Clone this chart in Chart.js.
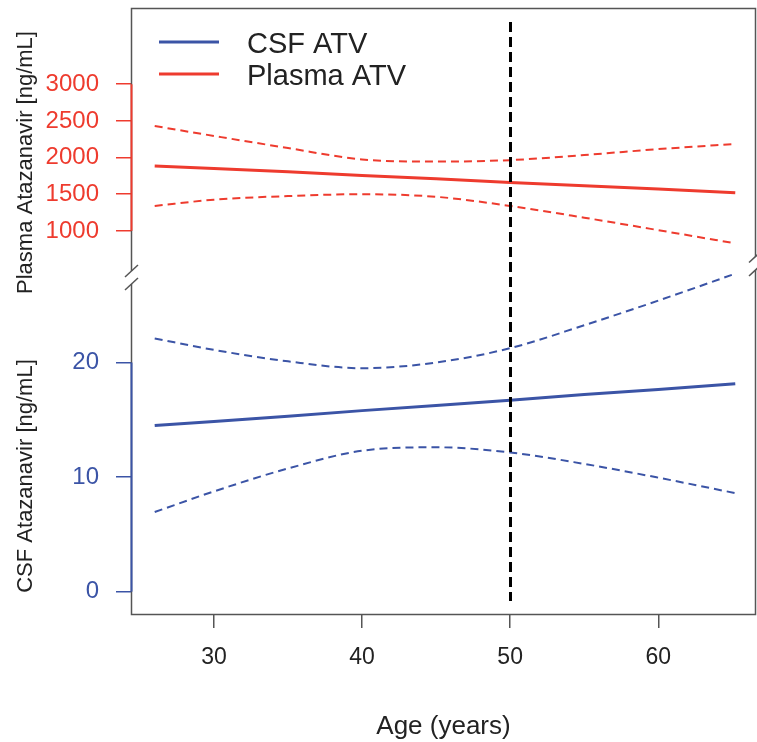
<!DOCTYPE html>
<html>
<head>
<meta charset="utf-8">
<script src="https://cdn.jsdelivr.net/npm/chart.js@4.4.1/dist/chart.umd.min.js"></script>
<style>
  html, body { margin: 0; padding: 0; background: #fff; }
  #wrap { width: 757px; height: 742px; }
</style>
</head>
<body>
<div id="wrap"><canvas id="atvChart" width="757" height="742"></canvas></div>
<script>
// model fit and 95% band, by age
const ages = [26, 30, 35, 40, 45, 50, 55, 60, 65.2];
const csfFit = [14.5, 14.85, 15.3, 15.8, 16.25, 16.7, 17.2, 17.65, 18.15];
const csfLower = [6.95, 8.75, 10.75, 12.3, 12.6, 12.15, 11.15, 9.95, 8.6];
const csfUpper = [22.1, 21.1, 20.1, 19.5, 20.0, 21.25, 23.25, 25.4, 27.75];
const plasmaFit = [1885, 1850, 1805, 1755, 1710, 1660, 1615, 1570, 1520];
const plasmaLower = [1340, 1425, 1475, 1500, 1465, 1340, 1180, 1010, 830];
const plasmaUpper = [2430, 2295, 2130, 1975, 1945, 1965, 2035, 2115, 2185];

const ageTicks = [30, 40, 50, 60];
const csfTicks = [0, 10, 20];
const plasmaTicks = [1000, 1500, 2000, 2500, 3000];
const cutoffAge = 50;

const ageTitle = "Age (years)";
const csfTitle = "CSF Atazanavir [ng/mL]";
const plasmaTitle = "Plasma Atazanavir [ng/mL]";

const BLUE = "#3B54A6";
const RED = "#EE3B2E";
const INK = "#222";
const FRAME = "#555";
const FONT = "'Liberation Sans', Arial, Helvetica, sans-serif";

function pts(values) {
  return ages.map((a, i) => ({ x: a, y: values[i] }));
}

function fitLine(label, values, color, axis) {
  return {
    label, data: pts(values), yAxisID: axis,
    borderColor: color, borderWidth: 3, pointRadius: 0,
    tension: 0, clip: false
  };
}

function bandLine(label, values, color, axis) {
  return {
    label, data: pts(values), yAxisID: axis,
    borderColor: color, borderWidth: 2, borderDash: [8, 5], pointRadius: 0,
    cubicInterpolationMode: "monotone", clip: false
  };
}

function fixedTicks(values) {
  return (scale) => { scale.ticks = values.map(v => ({ value: v })); };
}

// no extra room around the axes for overhanging labels
function fitLeft(s) {
  s.width = 131;
  s.paddingTop = 0;
  s.paddingBottom = 0;
}

function fitBottom(s) {
  s.height = 128;
  s.paddingLeft = 0;
  s.paddingRight = 0;
}

// box, cutoff line, coloured axis segments and the break marks
const framePlugin = {
  id: "frame",
  afterDatasetsDraw(chart) {
    const { ctx, chartArea: a, scales } = chart;
    ctx.save();

    const xc = Math.round(scales.x.getPixelForValue(cutoffAge)) + 0.5;
    ctx.strokeStyle = "#000";
    ctx.lineWidth = 3;
    ctx.setLineDash([10, 5]);
    ctx.beginPath();
    ctx.moveTo(xc, a.top + 14);
    ctx.lineTo(xc, a.bottom - 13);
    ctx.stroke();
    ctx.setLineDash([]);

    ctx.strokeStyle = FRAME;
    ctx.lineWidth = 1.5;
    ctx.strokeRect(a.left + 0.5, a.top + 0.5, a.width - 1, a.height);

    const yp = scales.yPlasma, yc = scales.yCsf;
    ctx.lineWidth = 2;
    ctx.strokeStyle = RED;
    ctx.beginPath();
    ctx.moveTo(a.left + 0.5, yp.getPixelForValue(plasmaTicks[plasmaTicks.length - 1]));
    ctx.lineTo(a.left + 0.5, yp.getPixelForValue(plasmaTicks[0]));
    ctx.stroke();
    ctx.strokeStyle = BLUE;
    ctx.beginPath();
    ctx.moveTo(a.left + 0.5, yc.getPixelForValue(csfTicks[csfTicks.length - 1]));
    ctx.lineTo(a.left + 0.5, yc.getPixelForValue(csfTicks[0]));
    ctx.stroke();

    // axis break: left side just above the split, right side a little higher
    const split = yc.top;
    const breakAt = (x, y1, y2) => {
      ctx.fillStyle = "#fff";
      ctx.fillRect(x - 3, y1, 6, y2 - y1);
      ctx.strokeStyle = FRAME;
      ctx.lineWidth = 1.5;
      [y1, y2].forEach(y => {
        ctx.beginPath();
        ctx.moveTo(x - 6.5, y + 6);
        ctx.lineTo(x + 6.5, y - 6);
        ctx.stroke();
      });
    };
    breakAt(a.left + 0.5, split - 9, split + 4);
    breakAt(a.right - 0.5, split - 23.5, split - 10);

    ctx.restore();
  }
};

const titlePlugin = {
  id: "axisTitles",
  afterDraw(chart) {
    const { ctx } = chart;
    ctx.save();
    ctx.font = `22px ${FONT}`;
    ctx.fillStyle = INK;
    ctx.textAlign = "center";
    ctx.textBaseline = "alphabetic";
    [[plasmaTitle, 162.5], [csfTitle, 476]].forEach(([text, y]) => {
      ctx.save();
      ctx.translate(32, y);
      ctx.rotate(-Math.PI / 2);
      ctx.fillText(text, 0, 0);
      ctx.restore();
    });
    ctx.restore();
  }
};

const legendPlugin = {
  id: "atvLegend",
  afterDraw(chart) {
    const { ctx, chartArea: a } = chart;
    const items = chart.data.datasets.filter(d => !d.borderDash);
    ctx.save();
    ctx.font = `29px ${FONT}`;
    ctx.textBaseline = "alphabetic";
    ctx.textAlign = "left";
    items.forEach((d, i) => {
      const y = a.top + 34 + i * 32;
      ctx.strokeStyle = d.borderColor;
      ctx.lineWidth = 3;
      ctx.beginPath();
      ctx.moveTo(a.left + 28, y);
      ctx.lineTo(a.left + 88, y);
      ctx.stroke();
      ctx.fillStyle = INK;
      ctx.fillText(d.label, a.left + 116, y + 10.5);
    });
    ctx.restore();
  }
};

const plainNumber = (v) => String(v);

const ctx = document.getElementById("atvChart").getContext("2d");

const chart = new Chart(ctx, {
  type: "line",
  data: {
    datasets: [
      fitLine("CSF ATV", csfFit, BLUE, "yCsf"),
      bandLine("CSF ATV lower", csfLower, BLUE, "yCsf"),
      bandLine("CSF ATV upper", csfUpper, BLUE, "yCsf"),
      fitLine("Plasma ATV", plasmaFit, RED, "yPlasma"),
      bandLine("Plasma ATV lower", plasmaLower, RED, "yPlasma"),
      bandLine("Plasma ATV upper", plasmaUpper, RED, "yPlasma")
    ]
  },
  options: {
    responsive: false,
    devicePixelRatio: 1,
    animation: false,
    layout: { padding: { top: 8, right: 1, left: 0, bottom: 0 } },
    plugins: {
      legend: { display: false },
      tooltip: { enabled: false }
    },
    scales: {
      x: {
        type: "linear",
        min: 24.4,
        max: 66.6,
        bounds: "data",
        afterBuildTicks: fixedTicks(ageTicks),
        afterFit: fitBottom,
        border: { display: false },
        grid: { drawOnChartArea: false, tickLength: 14, color: FRAME, lineWidth: 1.5 },
        ticks: { autoSkip: false, maxRotation: 0, padding: 16, color: INK, callback: plainNumber, font: { family: FONT, size: 23 } },
        title: { display: true, text: ageTitle, color: INK, padding: 0, font: { family: FONT, size: 26 } }
      },
      yCsf: {
        type: "linear",
        position: "left",
        stack: "left",
        stackWeight: 334,
        min: -1.95,
        max: 27.2,
        bounds: "data",
        afterBuildTicks: fixedTicks(csfTicks),
        afterFit: fitLeft,
        border: { display: false },
        grid: { drawOnChartArea: false, tickLength: 15, color: BLUE, lineWidth: 1.5 },
        ticks: { autoSkip: false, padding: 17, color: BLUE, callback: plainNumber, font: { family: FONT, size: 24 } }
      },
      yPlasma: {
        type: "linear",
        position: "left",
        stack: "left",
        stackWeight: 272,
        min: 330,
        max: 4040,
        bounds: "data",
        afterBuildTicks: fixedTicks(plasmaTicks),
        afterFit: fitLeft,
        border: { display: false },
        grid: { drawOnChartArea: false, tickLength: 15, color: RED, lineWidth: 1.5 },
        ticks: { autoSkip: false, padding: 17, color: RED, callback: plainNumber, font: { family: FONT, size: 24 } }
      }
    }
  },
  plugins: [framePlugin, titlePlugin, legendPlugin]
});
</script>
</body>
</html>
